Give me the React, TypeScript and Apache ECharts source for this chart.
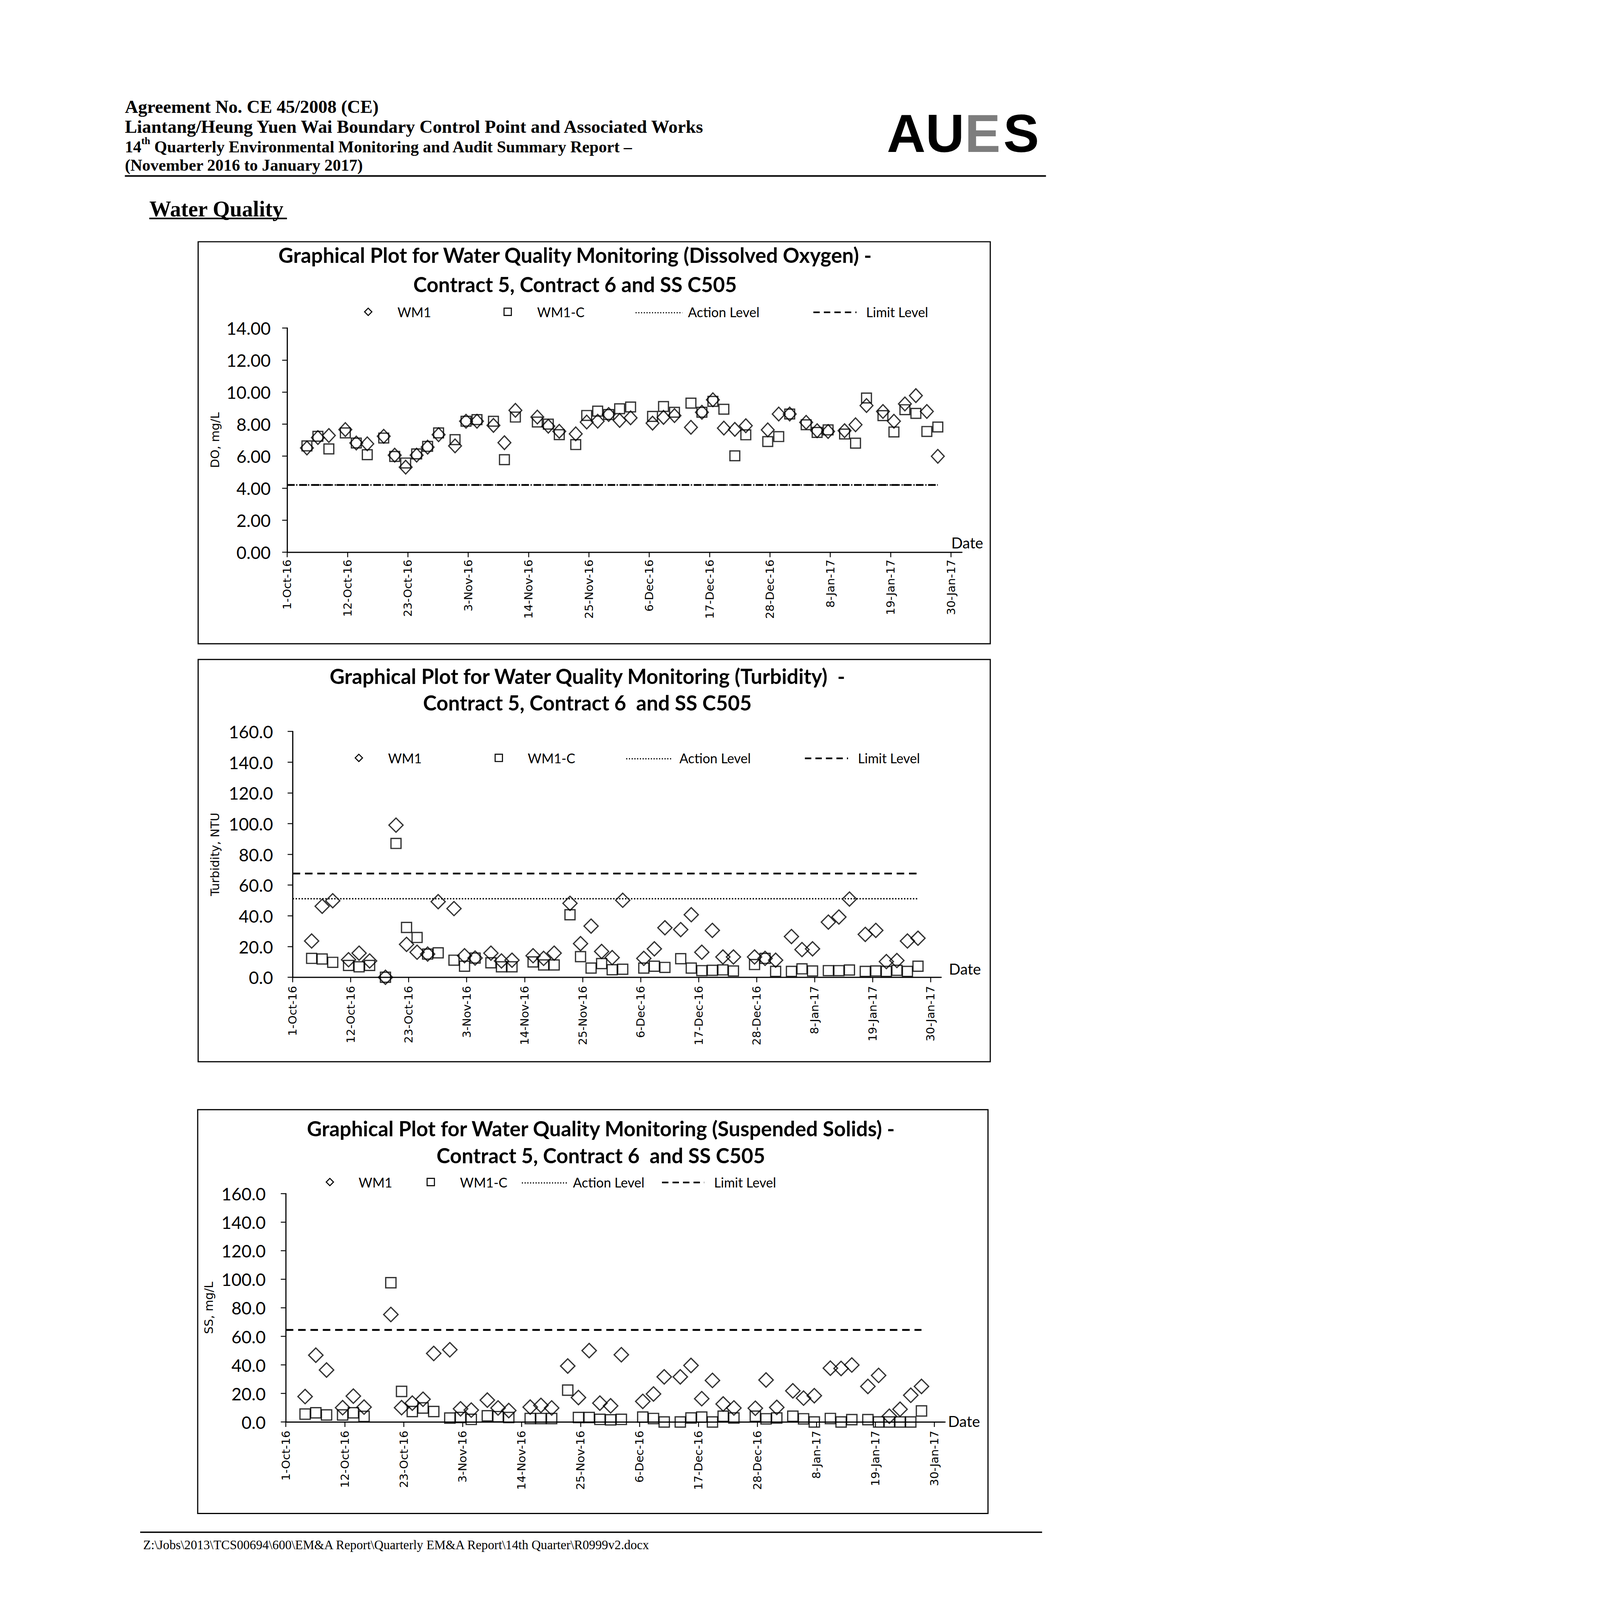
import React, { useEffect, useRef, useState } from "react";
import * as echarts from "echarts";

// ---------- data ----------
const sampleTime = "14:24";
const sampleDates = [
  "2016-10-04", "2016-10-06", "2016-10-08", "2016-10-11", "2016-10-13", "2016-10-15", "2016-10-18",
  "2016-10-20", "2016-10-22", "2016-10-24", "2016-10-26", "2016-10-28", "2016-10-31",
  "2016-11-02", "2016-11-04", "2016-11-07", "2016-11-09", "2016-11-11", "2016-11-15", "2016-11-17",
  "2016-11-19", "2016-11-22", "2016-11-24", "2016-11-26", "2016-11-28", "2016-11-30",
  "2016-12-02", "2016-12-06", "2016-12-08", "2016-12-10", "2016-12-13", "2016-12-15", "2016-12-17",
  "2016-12-19", "2016-12-21", "2016-12-23", "2016-12-27", "2016-12-29", "2016-12-31",
  "2017-01-03", "2017-01-05", "2017-01-07", "2017-01-10", "2017-01-12", "2017-01-14", "2017-01-17",
  "2017-01-19", "2017-01-21", "2017-01-23", "2017-01-25", "2017-01-27",
];

const tickDates = [
  "2016-10-01", "2016-10-12", "2016-10-23", "2016-11-03", "2016-11-14", "2016-11-25",
  "2016-12-06", "2016-12-17", "2016-12-28", "2017-01-08", "2017-01-19", "2017-01-30",
];
const axisStartDate = "2016-10-01";
const axisEndDate = "2017-02-01";

// Dissolved Oxygen (mg/L)
const doWM1 = [
  6.51, 7.16, 7.29, 7.66, 6.82, 6.77, 7.24, 6.06, 5.31, 6.06, 6.56, 7.34, 6.64,
  8.18, 8.18, 7.92, 6.84, 8.86, 8.44, 7.87, 7.55, 7.39, 8.13, 8.18, 8.6, 8.23,
  8.39, 8.06, 8.42, 8.53, 7.8, 8.74, 9.52, 7.75, 7.67, 7.9, 7.64, 8.63, 8.63,
  8.11, 7.59, 7.54, 7.59, 7.96, 9.16, 8.79, 8.18, 9.26, 9.78, 8.79, 5.99,
];
const doWM1C = [
  6.64, 7.24, 6.45, 7.45, 6.82, 6.09, 7.13, 5.98, 5.57, 6.14, 6.61, 7.45, 7.03,
  8.18, 8.28, 8.18, 5.78, 8.44, 8.13, 8.0, 7.34, 6.72, 8.54, 8.81, 8.6, 8.96,
  9.07, 8.48, 9.1, 8.74, 9.31, 8.74, 9.42, 8.93, 6.02, 7.33, 6.91, 7.22, 8.63,
  7.96, 7.48, 7.64, 7.38, 6.81, 9.63, 8.53, 7.51, 8.9, 8.67, 7.54, 7.82,
];
const doActionLevel = 4.2;
const doLimitLevel = 4.2;

// Turbidity (NTU)
const turbWM1 = [
  23.6, 46.2, 49.8, 11.4, 15.7, 10.6, 0, 99.0, 21.4, 16.3, 15.1, 49.2, 44.7,
  14.0, 12.5, 15.7, 10.6, 11.1, 14.0, 12.3, 15.7, 48.1, 21.9, 33.3, 16.8, 12.8,
  50.1, 12.3, 18.5, 32.2, 31.0, 40.7, 16.3, 30.5, 13.2, 13.2, 13.2, 12.3, 11.1,
  26.5, 18.0, 18.5, 35.9, 39.2, 50.9, 27.9, 30.5, 10.2, 10.9, 23.6, 25.4,
];
const turbWM1C = [
  12.3, 11.9, 9.7, 7.7, 6.8, 7.7, 0, 87.1, 32.4, 25.9, 15.1, 15.9, 11.1,
  7.2, 12.5, 9.4, 6.8, 6.8, 10.0, 8.0, 8.0, 40.7, 13.4, 6.0, 8.9, 4.9,
  5.2, 6.0, 7.2, 6.4, 12.1, 6.0, 4.3, 4.5, 4.8, 4.1, 8.3, 12.3, 3.8,
  3.8, 5.5, 4.1, 4.3, 4.3, 4.7, 3.8, 4.1, 3.8, 4.5, 3.8, 7.2,
];
const turbActionLevel = 51.1;
const turbLimitLevel = 67.5;

// Suspended Solids (mg/L)
const ssWM1: (number | null)[] = [
  17.8, 46.8, 36.4, 10.0, 18.1, 10.4, null, 75.3, 10.0, 13.2, 15.9, 48.0, 50.6,
  9.2, 8.3, 15.3, 9.8, 8.0, 10.4, 11.6, 9.8, 39.2, 17.1, 50.0, 13.2, 11.3,
  47.1, 14.4, 19.6, 31.6, 31.6, 39.6, 16.3, 29.1, 12.6, 9.8, 9.6, 29.4, 10.2,
  21.8, 16.7, 18.4, 37.7, 37.5, 39.9, 24.9, 32.6, 4.0, 8.9, 18.7, 24.9,
];
const ssWM1C: (number | null)[] = [
  5.5, 6.4, 4.9, 4.9, 6.4, 3.9, null, 97.6, 21.4, 7.3, 9.8, 7.3, 2.7,
  3.1, 1.8, 4.3, 3.7, 3.1, 2.4, 2.4, 2.4, 22.3, 3.1, 3.1, 1.8, 1.5,
  1.8, 3.4, 2.4, 0.0, 0.0, 2.8, 3.4, 0.0, 4.0, 2.8, 4.0, 2.2, 2.8,
  4.0, 2.2, 0.0, 2.4, 0.0, 1.6, 1.6, 0.0, 0.0, 0.0, 0.0, 7.7,
];
const ssLimitLevel = 64.5;

// ---------- helpers ----------
const PAGE_W = 4956;
const PAGE_H = 7009;
const MONTHS = ["Jan", "Feb", "Mar", "Apr", "May", "Jun", "Jul", "Aug", "Sep", "Oct", "Nov", "Dec"];
const parseUTC = (s: string, time = "00:00") => {
  const [y, m, d] = s.split("-").map(Number);
  const [hh, mm] = time.split(":").map(Number);
  return Date.UTC(y, m - 1, d, hh, mm);
};
const EPOCH = parseUTC(axisStartDate);
const DAY = 86400000;
const toDay = (s: string, time = "00:00") => (parseUTC(s, time) - EPOCH) / DAY;
const sampleDays = sampleDates.map((s) => toDay(s, sampleTime));
const tickDays = tickDates.map((s) => toDay(s));
const axisMaxDay = toDay(axisEndDate);
const lastSampleDay = sampleDays[sampleDays.length - 1];
const fmtDay = (v: number) => {
  const dt = new Date(EPOCH + Math.round(v) * DAY);
  return `${dt.getUTCDate()}-${MONTHS[dt.getUTCMonth()]}-${String(dt.getUTCFullYear()).slice(2)}`;
};
const pairs = (vals: (number | null)[]) =>
  vals.map((v, i) => [sampleDays[i], v]).filter((p) => p[1] !== null && p[1] !== undefined);

// ---------- layout ----------
type Panel = {
  grid: { left: number; top: number; width: number; height: number };
  yMax: number;
  yInterval: number;
  decimals: number;
  yName: string;
  nameGap: number;
  labelMargin: number;
  xLabelMargin: number;
  wm1: (number | null)[];
  wm1c: (number | null)[];
  action: number | null;
  limit: number | null;
  dia: [number, number];
  sq: number;
};

const panels: Panel[] = [
  {
    grid: { left: 1258, top: 1437, width: 2956, height: 982 },
    yMax: 14, yInterval: 2, decimals: 2, yName: "DO, mg/L", nameGap: 290, labelMargin: 72, xLabelMargin: 32,
    wm1: doWM1, wm1c: doWM1C, action: doActionLevel, limit: doLimitLevel, dia: [56, 60], sq: 43,
  },
  {
    grid: { left: 1282, top: 3204, width: 2841, height: 1077 },
    yMax: 160, yInterval: 20, decimals: 1, yName: "Turbidity, NTU", nameGap: 314, labelMargin: 86, xLabelMargin: 38,
    wm1: turbWM1, wm1c: turbWM1C, action: turbActionLevel, limit: turbLimitLevel, dia: [62, 62], sq: 44,
  },
  {
    grid: { left: 1252, top: 5229, width: 2888, height: 1000 },
    yMax: 160, yInterval: 20, decimals: 1, yName: "SS, mg/L", nameGap: 312, labelMargin: 88, xLabelMargin: 38,
    wm1: ssWM1, wm1c: ssWM1C, action: null, limit: ssLimitLevel, dia: [63, 63], sq: 45,
  },
];

const titles = [
  { l1: "Graphical Plot for Water Quality Monitoring (Dissolved Oxygen) -", l2: "Contract 5, Contract 6 and SS C505", x: 2519, y1: 1117, y2: 1245 },
  { l1: "Graphical Plot for Water Quality Monitoring (Turbidity)  -", l2: "Contract 5, Contract 6  and SS C505", x: 2573, y1: 2961, y2: 3077 },
  { l1: "Graphical Plot for Water Quality Monitoring (Suspended Solids) -", l2: "Contract 5, Contract 6  and SS C505", x: 2632, y1: 4942, y2: 5061 },
];

const frames = [
  { x: 868, y: 1059, w: 3470, h: 1761 },
  { x: 868, y: 2889, w: 3470, h: 1762 },
  { x: 866, y: 4861, w: 3462, h: 1769 },
];

const legends = [
  { y: 1366, dia: 1613, wm1: 1741, sq: 2224, wm1c: 2353, dot: [2784, 2989], act: 3014, dash: [3563, 3752], lim: 3794 },
  { y: 3320, dia: 1572, wm1: 1700, sq: 2185, wm1c: 2312, dot: [2743, 2947], act: 2976, dash: [3526, 3715], lim: 3758 },
  { y: 5178, dia: 1445, wm1: 1571, sq: 1887, wm1c: 2015, dot: [2286, 2484], act: 2510, dash: [2900, 3085], lim: 3128 },
];

const dateLabels = [
  { x: 4167, y: 2376 },
  { x: 4157, y: 4243 },
  { x: 4153, y: 6225 },
];

const CHART_FONT = "Lato";
const AXIS_FONT = "DejaVu Sans";
const SERIF = "Liberation Serif";

const txt = (x: number, y: number, text: string, size: number, opts: any = {}) => ({
  type: "text",
  x,
  y,
  silent: true,
  style: {
    text,
    fontSize: size,
    fontFamily: opts.family || CHART_FONT,
    fontWeight: opts.weight || "normal",
    fill: opts.fill || "#000",
    textAlign: opts.align || "left",
    textVerticalAlign: "middle",
    verticalAlign: "middle",
    rich: opts.rich,
  },
});

function buildOption() {
  const grid = panels.map((p) => ({ ...p.grid, containLabel: false }));
  const xAxis = panels.map((p, i) => ({
    gridIndex: i,
    type: "value",
    min: 0,
    max: axisMaxDay,
    interval: 11,
    axisLine: { show: true, onZero: false, lineStyle: { color: "#000", width: 5 } },
    axisTick: { show: true, customValues: tickDays, length: 22, lineStyle: { color: "#000", width: 4 } },
    axisLabel: {
      show: true,
      customValues: tickDays,
      rotate: 90,
      margin: p.xLabelMargin,
      fontFamily: AXIS_FONT,
      fontSize: 50,
      color: "#000",
      formatter: (v: number) => fmtDay(v),
    },
    splitLine: { show: false },
  }));
  const yAxis = panels.map((p, i) => ({
    gridIndex: i,
    type: "value",
    min: 0,
    max: p.yMax,
    interval: p.yInterval,
    name: p.yName,
    nameLocation: "middle",
    nameGap: p.nameGap,
    nameTextStyle: { fontFamily: AXIS_FONT, fontSize: 52, color: "#000" },
    axisLine: { show: true, lineStyle: { color: "#000", width: 5 } },
    axisTick: { show: true, length: 22, lineStyle: { color: "#000", width: 4 } },
    axisLabel: {
      margin: p.labelMargin,
      fontFamily: CHART_FONT,
      fontSize: 76,
      color: "#000",
      formatter: (v: number) => v.toFixed(p.decimals),
    },
    splitLine: { show: false },
  }));

  const series: any[] = [];
  panels.forEach((p, i) => {
    series.push({
      name: "WM1",
      type: "scatter",
      xAxisIndex: i,
      yAxisIndex: i,
      data: pairs(p.wm1),
      symbol: "diamond",
      symbolSize: p.dia,
      clip: false,
      silent: true,
      itemStyle: { color: "rgba(0,0,0,0)", borderColor: "#000", borderWidth: 5.5 },
    });
    series.push({
      name: "WM1-C",
      type: "scatter",
      xAxisIndex: i,
      yAxisIndex: i,
      data: pairs(p.wm1c),
      symbol: "rect",
      symbolSize: p.sq,
      clip: false,
      silent: true,
      itemStyle: { color: "rgba(0,0,0,0)", borderColor: "#000", borderWidth: 5.5 },
    });
    if (p.action !== null) {
      series.push({
        name: "Action Level",
        type: "line",
        xAxisIndex: i,
        yAxisIndex: i,
        data: [[0, p.action], [lastSampleDay, p.action]],
        symbol: "none",
        silent: true,
        lineStyle: { color: "#000", width: 6, type: [6, 7] },
      });
    }
    if (p.limit !== null) {
      series.push({
        name: "Limit Level",
        type: "line",
        xAxisIndex: i,
        yAxisIndex: i,
        data: [[0, p.limit], [lastSampleDay, p.limit]],
        symbol: "none",
        silent: true,
        lineStyle: { color: "#000", width: 8, type: [33, 21] },
      });
    }
  });

  const g: any[] = [];
  // header
  g.push(txt(547, 467, "Agreement No. CE 45/2008 (CE)", 80, { family: SERIF, weight: "bold" }));
  g.push(txt(547, 554, "Liantang/Heung Yuen Wai Boundary Control Point and Associated Works", 80, { family: SERIF, weight: "bold" }));
  g.push(
    txt(547, 637, "{a|14}{s|th}{a| Quarterly Environmental Monitoring and Audit Summary Report \u2013}", 72, {
      family: SERIF,
      weight: "bold",
      rich: {
        a: { fontSize: 72, fontFamily: SERIF, fontWeight: "bold", fill: "#000", verticalAlign: "bottom", lineHeight: 84 },
        s: { fontSize: 44, fontFamily: SERIF, fontWeight: "bold", fill: "#000", verticalAlign: "top", lineHeight: 84 },
      },
    })
  );
  g.push(txt(547, 724, "(November 2016 to January 2017)", 72, { family: SERIF, weight: "bold" }));
  g.push({ type: "line", silent: true, shape: { x1: 547, y1: 771, x2: 4582, y2: 771 }, style: { stroke: "#000", lineWidth: 7 } });
  // logo
  g.push(txt(3885, 584, "AU", 235, { family: "Liberation Sans", weight: "bold" }));
  g.push(txt(4226, 584, "E", 235, { family: "Liberation Sans", weight: "bold", fill: "#7d7d7d" }));
  g.push(txt(4395, 584, "S", 235, { family: "Liberation Sans", weight: "bold" }));
  // section heading
  g.push(txt(654, 915, "Water Quality", 96, { family: SERIF, weight: "bold" }));
  g.push({ type: "line", silent: true, shape: { x1: 654, y1: 957, x2: 1257, y2: 957 }, style: { stroke: "#000", lineWidth: 7 } });

  frames.forEach((f) =>
    g.push({ type: "rect", silent: true, shape: { x: f.x, y: f.y, width: f.w, height: f.h }, style: { fill: "none", stroke: "#000", lineWidth: 5 } })
  );
  titles.forEach((t) => {
    g.push(txt(t.x, t.y1, t.l1, 90, { weight: "bold", align: "center" }));
    g.push(txt(t.x, t.y2, t.l2, 90, { weight: "bold", align: "center" }));
  });
  legends.forEach((l) => {
    const y = l.y;
    g.push({
      type: "polygon",
      silent: true,
      shape: { points: [[l.dia, y - 16], [l.dia + 16, y], [l.dia, y + 16], [l.dia - 16, y]] },
      style: { fill: "none", stroke: "#000", lineWidth: 4.5 },
    });
    g.push(txt(l.wm1, y + 2, "WM1", 58));
    g.push({ type: "rect", silent: true, shape: { x: l.sq - 16, y: y - 16, width: 32, height: 32 }, style: { fill: "none", stroke: "#000", lineWidth: 4.5 } });
    g.push(txt(l.wm1c, y + 2, "WM1-C", 58));
    g.push({ type: "line", silent: true, shape: { x1: l.dot[0], y1: y + 4, x2: l.dot[1], y2: y + 4 }, style: { stroke: "#000", lineWidth: 5, lineDash: [5, 7] } });
    g.push(txt(l.act, y + 2, "Action Level", 58));
    g.push({ type: "line", silent: true, shape: { x1: l.dash[0], y1: y + 2, x2: l.dash[1], y2: y + 2 }, style: { stroke: "#000", lineWidth: 7, lineDash: [28, 18] } });
    g.push(txt(l.lim, y + 2, "Limit Level", 58));
  });
  dateLabels.forEach((d) => g.push(txt(d.x, d.y, "Date", 66)));

  // footer
  g.push({ type: "line", silent: true, shape: { x1: 614, y1: 6712, x2: 4565, y2: 6712 }, style: { stroke: "#000", lineWidth: 6 } });
  g.push(
    txt(627, 6768, "Z:\\Jobs\\2013\\TCS00694\\600\\EM&A Report\\Quarterly EM&A Report\\14th Quarter\\R0999v2.docx", 56, { family: SERIF })
  );

  return {
    animation: false,
    backgroundColor: "#ffffff",
    grid,
    xAxis,
    yAxis,
    series,
    graphic: { elements: g },
  };
}

const fitScale = () => {
  if (typeof window === "undefined") return 1;
  const s = Math.min(window.innerWidth / PAGE_W, window.innerHeight / PAGE_H);
  return s > 0 ? s : 1;
};

export default function App() {
  const ref = useRef<HTMLDivElement>(null);
  const [scale] = useState(fitScale);
  useEffect(() => {
    if (!ref.current) return;
    const chart = echarts.init(ref.current, undefined, { renderer: "svg" });
    chart.setOption(buildOption() as any);
    return () => chart.dispose();
  }, []);
  return (
    <div
      style={{
        position: "fixed",
        left: 0,
        top: 0,
        width: PAGE_W * scale,
        height: PAGE_H * scale,
        overflow: "hidden",
        background: "#fff",
      }}
    >
      <div
        ref={ref}
        style={{
          position: "absolute",
          left: 0,
          top: 0,
          width: PAGE_W,
          height: PAGE_H,
          transform: `scale(${scale})`,
          transformOrigin: "0 0",
          background: "#fff",
        }}
      />
    </div>
  );
}
